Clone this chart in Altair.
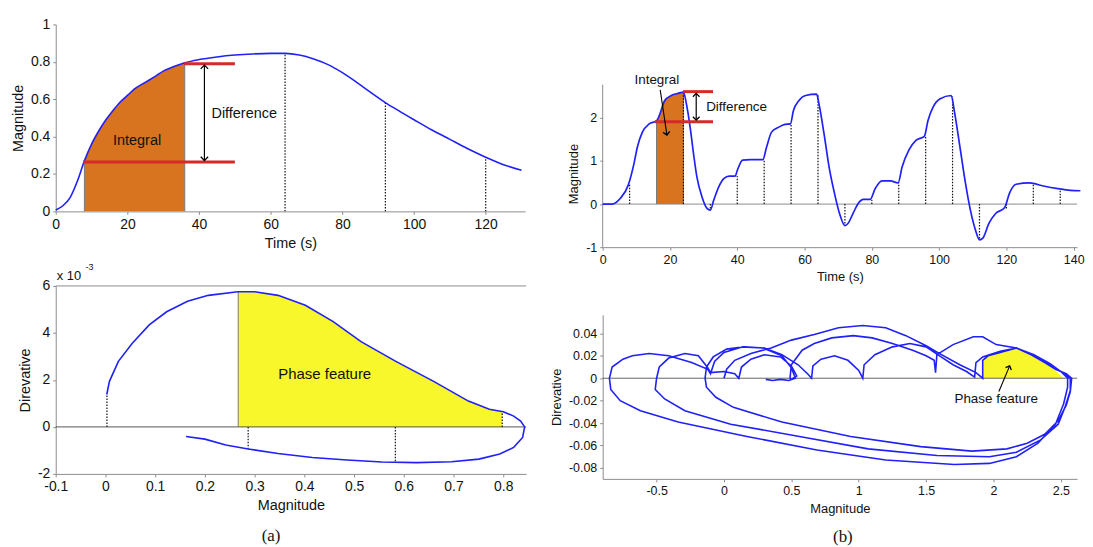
import altair as alt
import pandas as pd

FONT = "Liberation Sans"
SERIF = "Liberation Serif"
BLUE = "#2020f8"
ORANGE = "#d8731f"
YELLOW = "#f7f72c"
RED = "#d42a2a"
AXC = "#8c8c8c"
EDGE = "#7a7a7a"
INK = "#111111"
HEAD = "M-1,1L0,0L1,1"

# ---------------- (a) top : magnitude vs time ----------------
a_time = [0, 2, 4, 6, 8, 10, 12, 14, 16, 18, 20, 22, 25, 28, 30, 33, 36, 40, 45, 50,
          55, 60, 64, 68, 72, 76, 80, 84, 88, 92, 96, 100, 105, 110, 115, 120, 125, 130]
a_mag = [0.007, 0.03, 0.074, 0.16, 0.27, 0.36, 0.43, 0.49, 0.54, 0.585, 0.62, 0.655, 0.69,
         0.725, 0.75, 0.775, 0.795, 0.812, 0.826, 0.836, 0.842, 0.845, 0.845, 0.836, 0.815,
         0.785, 0.742, 0.69, 0.635, 0.582, 0.535, 0.49, 0.435, 0.385, 0.335, 0.29, 0.25, 0.22]
a_fill_range = [8, 36]
a_edge_t = [8, 36]
a_edge_v = [0.27, 0.795]
a_drop_t = [64, 92, 120]
a_drop_v = [0.845, 0.582, 0.29]
a_red_y = [0.264, 0.79]
a_red_x0 = [7.6, 35.8]
a_red_x1 = [50, 50]
a_arrow_t = [41.5]
a_arrow_lo = [0.272]
a_arrow_hi = [0.782]
a_text = ["Integral", "Difference"]
a_text_t = [22.7, 52.6]
a_text_v = [0.375, 0.52]

# ---------------- (a) bottom : phase plot ----------------
a_ph_x = [0.0026, 0.008, 0.026, 0.054, 0.088, 0.123, 0.165, 0.207, 0.266, 0.30,
          0.347, 0.402, 0.458, 0.514, 0.584, 0.66, 0.73, 0.772, 0.80, 0.821,
          0.835, 0.843, 0.839, 0.821, 0.793, 0.751, 0.696, 0.626, 0.556, 0.486,
          0.416, 0.347, 0.287, 0.242, 0.2, 0.162]
a_ph_y = [1.38, 1.94, 2.79, 3.56, 4.34, 4.9, 5.35, 5.6, 5.75, 5.75,
          5.6, 5.18, 4.48, 3.63, 2.79, 1.94, 1.1, 0.75, 0.65, 0.46,
          0.25, 0.0, -0.45, -0.87, -1.15, -1.37, -1.48, -1.52, -1.49, -1.41,
          -1.30, -1.13, -0.94, -0.77, -0.52, -0.41]
a_fill_x = [0.267, 0.30, 0.347, 0.402, 0.458, 0.514, 0.584, 0.66, 0.73, 0.772, 0.798]
a_fill_y = [5.75, 5.75, 5.6, 5.18, 4.48, 3.63, 2.79, 1.94, 1.1, 0.75, 0.65]
a_ph_edge_x = [0.267]
a_ph_edge_y = [5.75]
a_ph_drop_x = [0.003, 0.287, 0.583, 0.798]
a_ph_drop_y = [1.38, -0.94, -1.52, 0.65]

# ---------------- (b) top : magnitude vs time ----------------
b_time = [0, 2.7, 5.2, 7.6, 9.3, 10.3, 11.8, 13.8, 16, 17, 18.4, 20.4, 22.4, 24, 24.9, 26,
          27, 28, 29.5, 31, 32, 33, 34.5, 36, 37.6, 39.4, 40, 41.6, 44, 47.6, 48.7, 50.2,
          52.2, 54.2, 55.8, 56.7, 58.3, 60.3, 63.6, 64.3, 65.8, 67.3, 68.9, 70.4, 72, 72.9,
          74.4, 76, 77.5, 79.5, 81, 83, 85.5, 87.8, 89, 91, 93.1, 95.6, 96.7, 98.2, 100.2,
          103.6, 104.5, 106.2, 107.7, 109.3, 110.8, 112, 113, 114.8, 116.8, 119.5, 120.9,
          122.9, 126.9, 131, 135.3, 139, 142]
b_mag = [0, 0, 0.13, 0.44, 0.94, 1.32, 1.67, 1.86, 1.93, 2.09, 2.4, 2.52, 2.57, 2.6, 2.32,
         1.78, 1.17, 0.63, 0.17, -0.1, -0.14, 0.09, 0.4, 0.59, 0.65, 0.65, 0.78, 1.02, 1.03,
         1.03, 1.32, 1.67, 1.78, 1.85, 1.86, 2.17, 2.4, 2.52, 2.55, 2.32, 1.63, 0.86, 0.25,
         -0.22, -0.5, -0.45, -0.22, 0.02, 0.11, 0.11, 0.36, 0.54, 0.54, 0.49, 0.86, 1.25,
         1.48, 1.57, 1.94, 2.25, 2.44, 2.52, 2.17, 1.32, 0.55, -0.14, -0.6, -0.83, -0.79,
         -0.45, -0.22, -0.08, 0.25, 0.46, 0.49, 0.42, 0.36, 0.32, 0.31]
b_axis_top = 2.77
b_fill_range = [16, 24]
b_edge_t = [16, 24]
b_edge_v = [1.93, 2.6]
b_drop_t = [8, 24, 32, 40, 48, 56, 64, 72, 80, 88, 96, 104, 112, 120, 128, 136]
b_drop_v = [0.45, 2.6, -0.14, 0.65, 1.03, 1.86, 2.55, -0.5, 0.1, 0.5, 1.57, 2.5, -0.83,
            -0.1, 0.48, 0.35]
b_red_y = [1.91, 2.61]
b_red_x0 = [15.5, 23.9]
b_red_x1 = [32.8, 32.8]
b_arrow_t = [27.8]
b_arrow_lo = [1.95]
b_arrow_hi = [2.57]
b_int_arrow = [17.1, 2.65, 19.1, 1.6]  # from (t, v) to (t, v)
b_text = ["Integral", "Difference"]
b_text_t = [16.1, 39.8]
b_text_v = [2.88, 2.25]

# ---------------- (b) bottom : phase plot (traced in time order) ----------------
b_ph_x = [0, 0.02, 0.08, 0.2, 0.35, 0.5, 0.67, 0.85, 1.03, 1.2, 1.35, 1.5, 1.6, 1.75, 1.87, 1.92,
          1.92, 1.96, 2.05, 2.17, 2.28, 2.38, 2.46, 2.54, 2.58,
          2.57, 2.54, 2.48, 2.38, 2.25, 2.1, 1.84, 1.46, 0.94, 0.43, 0.07, -0.06, -0.13, -0.14,
          -0.13, -0.08, 0.02, 0.15, 0.3, 0.43, 0.55, 0.62, 0.65,
          0.66, 0.72, 0.82, 0.92, 1.0, 1.03,
          1.04, 1.12, 1.25, 1.38, 1.5, 1.6, 1.7, 1.8, 1.86,
          1.87, 1.92, 2.05, 2.17, 2.3, 2.42, 2.5, 2.57,
          2.57, 2.53, 2.48, 2.35, 2.17, 1.97, 1.58, 1.07, 0.56, 0.05, -0.29, -0.44, -0.51, -0.5,
          -0.48, -0.41, -0.29, -0.19, -0.12, -0.1, 0.0, 0.08, 0.11,
          0.13, 0.2, 0.3, 0.42, 0.5, 0.54, 0.5, 0.49,
          0.5, 0.58, 0.67, 0.8, 0.96, 1.1, 1.25, 1.4, 1.5, 1.56, 1.57,
          1.58, 1.7, 1.85, 1.92, 2.02, 2.17, 2.3, 2.42, 2.5, 2.55,
          2.55, 2.52, 2.46, 2.33, 2.17, 1.97, 1.71, 1.2, 0.69, 0.17, -0.34, -0.62, -0.77, -0.84, -0.85,
          -0.83, -0.75, -0.68, -0.555, -0.41, -0.24, -0.12, -0.1,
          -0.07, 0.0, 0.14, 0.29, 0.43, 0.5, 0.53,
          0.48, 0.42, 0.36, 0.31]
b_ph_y = [0, 0.008, 0.016, 0.022, 0.027, 0.034, 0.039, 0.045, 0.047, 0.045, 0.038, 0.029, 0.022, 0.012, 0.005, 0.0,
          0.016, 0.02, 0.023, 0.027, 0.021, 0.014, 0.008, 0.004, 0.0,
          -0.012, -0.024, -0.038, -0.05, -0.058, -0.063, -0.065, -0.061, -0.052, -0.039, -0.026, -0.017, -0.008, 0.0,
          0.01, 0.019, 0.026, 0.028, 0.027, 0.021, 0.012, 0.004, 0.0,
          0.011, 0.017, 0.02, 0.016, 0.007, 0.0,
          0.012, 0.021, 0.028, 0.031, 0.028, 0.02, 0.012, 0.006, 0.001,
          0.014, 0.019, 0.024, 0.027, 0.02, 0.012, 0.006, 0.0,
          -0.011, -0.026, -0.041, -0.055, -0.066, -0.07, -0.069, -0.063, -0.052, -0.041, -0.029, -0.0185, -0.01, 0.0,
          0.01, 0.018, 0.022, 0.02, 0.0094, 0.005, 0.006, 0.004, 0.0,
          0.01, 0.017, 0.021, 0.019, 0.011, 0.002, -0.001, 0.0,
          0.012, 0.025, 0.031, 0.036, 0.038, 0.036, 0.031, 0.025, 0.02, 0.016, 0.005,
          0.021, 0.03, 0.037, 0.037, 0.03, 0.027, 0.021, 0.013, 0.006, 0.0,
          -0.008, -0.023, -0.041, -0.058, -0.07, -0.076, -0.077, -0.073, -0.064, -0.052, -0.039, -0.029, -0.02, -0.01, 0.0,
          0.01, 0.017, 0.02, 0.022, 0.02, 0.014, 0.008, 0.004,
          0.015, 0.023, 0.028, 0.027, 0.02, 0.0094, 0.0,
          -0.002, -0.001, -0.002, -0.001]
b_fill_x = [1.92, 1.96, 2.05, 2.17, 2.28, 2.38, 2.46, 2.52]
b_fill_y = [0.017, 0.02, 0.023, 0.027, 0.021, 0.014, 0.007, 0.0]
b_ph_arrow = [2.04, -0.0118, 2.12, 0.011]
b_ph_text = ["Phase feature"]
b_ph_text_x = [2.02]
b_ph_text_y = [-0.0186]


# ---------------- helpers ----------------
def axis(values, title, size, tsize, **kw):
    return alt.Axis(values=values, title=title, labelFontSize=size, titleFontSize=tsize,
                    labelFlush=False, labelOverlap=False, labelExpr="'' + datum.value",
                    ticks=True, tickSize=3, labelPadding=3, titlePadding=5, **kw)


def panel(xs, ys, xax, yax):
    def X(f):
        return alt.X(f, type="quantitative", scale=xs, axis=xax)

    def Y(f):
        return alt.Y(f, type="quantitative", scale=ys, axis=yax)
    return X, Y


def rules(X, Y, xs, y0, y1, **mk):
    df = pd.DataFrame({"x": xs, "y0": y0, "y1": y1})
    return alt.Chart(df).mark_rule(**mk).encode(x=X("x"), y=Y("y0"), y2=alt.Y2("y1"))


def hrules(X, Y, ys, x0, x1, **mk):
    df = pd.DataFrame({"y": ys, "x0": x0, "x1": x1})
    return alt.Chart(df).mark_rule(**mk).encode(x=X("x0"), x2=alt.X2("x1"), y=Y("y"))


def heads(X, Y, xs, ys, angs, size=55):
    df = pd.DataFrame({"x": xs, "y": ys, "ang": angs})
    return alt.Chart(df).mark_point(shape=HEAD, filled=False, size=size, color="black",
                                    strokeWidth=1.3, opacity=1).encode(
        x=X("x"), y=Y("y"), angle=alt.Angle("ang:Q", scale=None))


def texts(X, Y, s, xs, ys, size):
    df = pd.DataFrame({"s": s, "x": xs, "y": ys})
    return alt.Chart(df).mark_text(font=FONT, fontSize=size, color=INK).encode(
        x=X("x"), y=Y("y"), text="s:N")


DOT = dict(color="#111111", strokeWidth=1.2, strokeDash=[1.5, 1.5])

# ---------------- panel (a) top ----------------
X, Y = panel(alt.Scale(domain=[0, 131], nice=False, zero=False),
             alt.Scale(domain=[0, 1], nice=False, zero=False),
             axis([0, 20, 40, 60, 80, 100, 120], "Time (s)", 14, 14.5),
             axis([0, 0.2, 0.4, 0.6, 0.8, 1], "Magnitude", 14, 14.5))
df_a = pd.DataFrame({"t": a_time, "v": a_mag, "i": range(len(a_time))})
a_area = alt.Chart(df_a).transform_filter(
    f"datum.t >= {a_fill_range[0]} && datum.t <= {a_fill_range[1]}"
).mark_area(color=ORANGE, interpolate="monotone", opacity=1).encode(
    x=X("t"), y=Y("v"), y2=alt.datum(0))
a_line = alt.Chart(df_a).mark_line(color=BLUE, strokeWidth=1.6, interpolate="monotone").encode(
    x=X("t"), y=Y("v"), order="i:Q")
A1 = alt.layer(
    a_area,
    rules(X, Y, a_edge_t, [0, 0], a_edge_v, color=EDGE, strokeWidth=1),
    rules(X, Y, a_drop_t, [0] * len(a_drop_t), a_drop_v, **DOT),
    a_line,
    hrules(X, Y, a_red_y, a_red_x0, a_red_x1, color=RED, strokeWidth=3),
    rules(X, Y, a_arrow_t, a_arrow_lo, a_arrow_hi, color="black", strokeWidth=1.2),
    heads(X, Y, a_arrow_t * 2, [a_arrow_hi[0], a_arrow_lo[0]], [0, 180]),
    texts(X, Y, a_text, a_text_t, a_text_v, 14.5),
).properties(width=472, height=188)

# ---------------- panel (a) bottom ----------------
X, Y = panel(alt.Scale(domain=[-0.1, 0.846], nice=False, zero=False),
             alt.Scale(domain=[-2, 6], nice=False, zero=False),
             axis([-0.1, 0, 0.1, 0.2, 0.3, 0.4, 0.5, 0.6, 0.7, 0.8], "Magnitude", 14, 14.5),
             axis([-2, 0, 2, 4, 6], "Direvative", 14, 14.5))
df_aph = pd.DataFrame({"x": a_ph_x, "y": a_ph_y, "i": range(len(a_ph_x))})
df_afill = pd.DataFrame({"x": a_fill_x, "y": a_fill_y})
df_sci = pd.DataFrame({"x": [-0.098], "y": [6.42], "s": ["x 10"]})
df_sci2 = pd.DataFrame({"x": [-0.04], "y": [6.8], "s": ["-3"]})
A2 = alt.layer(
    alt.Chart(pd.DataFrame({"y": [6]})).mark_rule(color=AXC, strokeWidth=1).encode(y=Y("y")),
    alt.Chart(df_afill).mark_area(color=YELLOW, opacity=1).encode(x=X("x"), y=Y("y"), y2=alt.datum(0)),
    alt.Chart(pd.DataFrame({"y": [0]})).mark_rule(color="#444444", strokeWidth=0.9).encode(y=Y("y")),
    rules(X, Y, a_ph_edge_x, [0], a_ph_edge_y, color=EDGE, strokeWidth=1),
    rules(X, Y, a_ph_drop_x, [0] * len(a_ph_drop_x), a_ph_drop_y, **DOT),
    alt.Chart(df_aph).mark_line(color=BLUE, strokeWidth=1.6).encode(x=X("x"), y=Y("y"), order="i:Q"),
    texts(X, Y, ["Phase feature"], [0.441], [2.23], 15),
    alt.Chart(df_sci).mark_text(font=FONT, fontSize=13, color=INK, align="left").encode(
        x=X("x"), y=Y("y"), text="s:N"),
    alt.Chart(df_sci2).mark_text(font=FONT, fontSize=9, color=INK, align="left").encode(
        x=X("x"), y=Y("y"), text="s:N"),
).properties(width=473, height=189,
             title=alt.TitleParams("(a)", orient="bottom", font=SERIF, fontSize=17,
                                   fontWeight="normal", offset=16, dx=-20, color=INK))

# ---------------- panel (b) top ----------------
# plot is extended upward (empty) so the visible axis starts lower, as in the figure
X, Y = panel(alt.Scale(domain=[0, 141], nice=False, zero=False),
             alt.Scale(domain=[-1, 4.17], nice=False, zero=False),
             axis([0, 20, 40, 60, 80, 100, 120, 140], "Time (s)", 12.5, 13),
             axis([-1, 0, 1, 2], "Magnitude", 12.5, 13, domain=False, titleY=150))
df_b = pd.DataFrame({"t": b_time, "v": b_mag, "i": range(len(b_time))})
b_area = alt.Chart(df_b).transform_filter(
    f"datum.t >= {b_fill_range[0]} && datum.t <= {b_fill_range[1]}"
).mark_area(color=ORANGE, interpolate="monotone", opacity=1).encode(
    x=X("t"), y=Y("v"), y2=alt.datum(0))
b_line = alt.Chart(df_b).mark_line(color=BLUE, strokeWidth=1.7, interpolate="monotone").encode(
    x=X("t"), y=Y("v"), order="i:Q")
df_iarrow = pd.DataFrame({"x0": [b_int_arrow[0]], "y0": [b_int_arrow[1]],
                          "x1": [b_int_arrow[2]], "y1": [b_int_arrow[3]]})
B1 = alt.layer(
    rules(X, Y, [0], [-1], [b_axis_top], color=AXC, strokeWidth=1),
    alt.Chart(pd.DataFrame({"y": [0]})).mark_rule(color=AXC, strokeWidth=1).encode(y=Y("y")),
    b_area,
    rules(X, Y, b_edge_t, [0, 0], b_edge_v, color=EDGE, strokeWidth=1),
    rules(X, Y, b_drop_t, [0] * len(b_drop_t), b_drop_v, **DOT),
    b_line,
    hrules(X, Y, b_red_y, b_red_x0, b_red_x1, color=RED, strokeWidth=3),
    rules(X, Y, b_arrow_t, b_arrow_lo, b_arrow_hi, color="black", strokeWidth=1.2),
    heads(X, Y, b_arrow_t * 2, [b_arrow_hi[0], b_arrow_lo[0]], [0, 180], size=45),
    alt.Chart(df_iarrow).mark_rule(color="black", strokeWidth=1.1).encode(
        x=X("x0"), y=Y("y0"), x2=alt.X2("x1"), y2=alt.Y2("y1")),
    heads(X, Y, [b_int_arrow[2]], [b_int_arrow[3]], [171], size=45),
    texts(X, Y, b_text, b_text_t, b_text_v, 13.5),
).properties(width=477, height=224)

# ---------------- panel (b) bottom ----------------
X, Y = panel(alt.Scale(domain=[-0.9, 2.62], nice=False, zero=False),
             alt.Scale(domain=[-0.0898, 0.0566], nice=False, zero=False),
             axis([-0.5, 0, 0.5, 1, 1.5, 2, 2.5], "Magnitude", 12.5, 13),
             axis([-0.08, -0.06, -0.04, -0.02, 0, 0.02, 0.04], "Direvative", 12.5, 13))
df_bph = pd.DataFrame({"x": b_ph_x, "y": b_ph_y, "i": range(len(b_ph_x))})
df_bfill = pd.DataFrame({"x": b_fill_x, "y": b_fill_y})
df_parrow = pd.DataFrame({"x0": [b_ph_arrow[0]], "y0": [b_ph_arrow[1]],
                          "x1": [b_ph_arrow[2]], "y1": [b_ph_arrow[3]]})
B2 = alt.layer(
    alt.Chart(df_bfill).mark_area(color=YELLOW, opacity=1).encode(x=X("x"), y=Y("y"), y2=alt.datum(0)),
    alt.Chart(pd.DataFrame({"y": [0]})).mark_rule(color="#555555", strokeWidth=0.9).encode(y=Y("y")),
    alt.Chart(df_bph).mark_line(color=BLUE, strokeWidth=1.6).encode(x=X("x"), y=Y("y"), order="i:Q"),
    alt.Chart(df_parrow).mark_rule(color="black", strokeWidth=1.1).encode(
        x=X("x0"), y=Y("y0"), x2=alt.X2("x1"), y2=alt.Y2("y1")),
    heads(X, Y, [b_ph_arrow[2]], [b_ph_arrow[3]], [23], size=40),
    texts(X, Y, b_ph_text, b_ph_text_x, b_ph_text_y, 13.5),
).properties(width=477, height=165,
             title=alt.TitleParams("(b)", orient="bottom", font=SERIF, fontSize=17,
                                   fontWeight="normal", offset=14, dx=3, color=INK))

left = alt.vconcat(A1, A2, spacing=13)
right = alt.vconcat(B1, B2, spacing=31)
chart = alt.hconcat(left, right, spacing=22).properties(
    padding={"left": 2, "top": 8, "right": 0, "bottom": 0}
).configure_view(stroke=None).configure_axis(
    domainColor=AXC, tickColor=AXC, labelColor=INK, titleColor=INK,
    labelFont=FONT, titleFont=FONT, titleFontWeight="normal", grid=False
)

chart.save("out.html", embed_options={"renderer": "svg", "actions": False})
